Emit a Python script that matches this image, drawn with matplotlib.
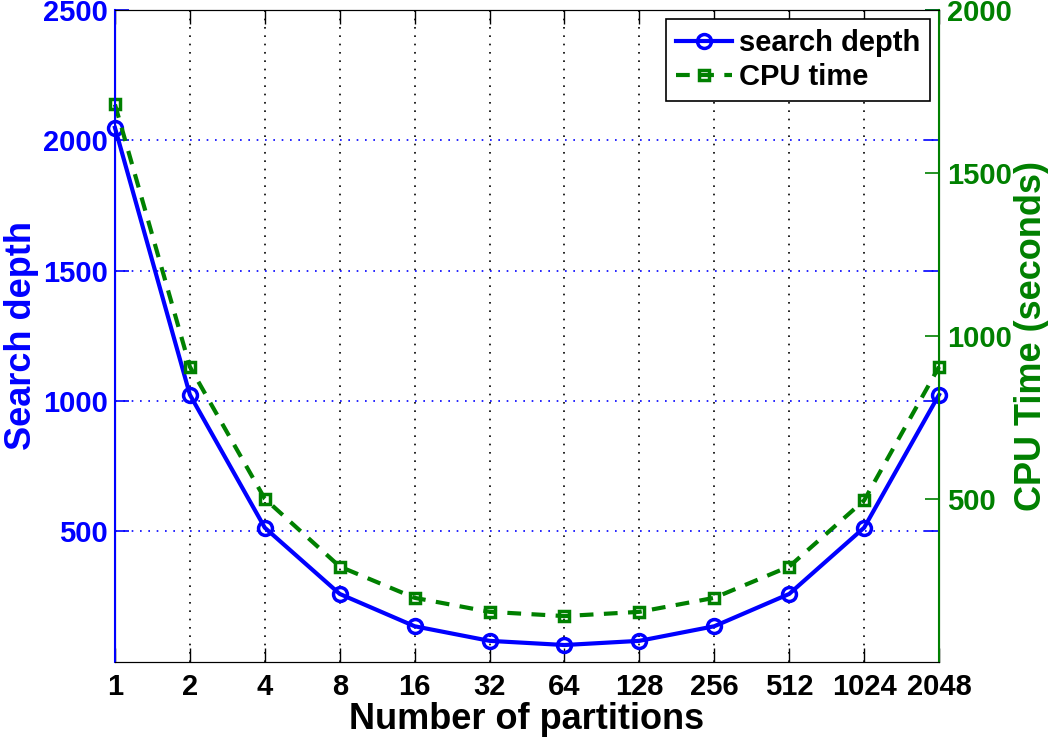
import numpy as np
import matplotlib
matplotlib.use('Agg')
import matplotlib.pyplot as plt

plt.rcParams['font.family'] = ['Liberation Sans', 'DejaVu Sans']
plt.rcParams['font.weight'] = 'bold'

partitions = ['1', '2', '4', '8', '16', '32', '64', '128', '256', '512', '1024', '2048']
search_depth = [2048, 1024, 514, 260, 136, 80, 64, 80, 136, 260, 514, 1024]
cpu_time = [1710, 905, 500, 292, 196, 153, 140, 153, 196, 292, 495, 905]

blue = '#0000ff'
green = '#008000'

x = np.arange(1, len(partitions) + 1)

fig = plt.figure(figsize=(10.5, 7.39), dpi=100)
ax = fig.add_axes([0.1095, 0.1046, 0.7848, 0.8819])
ax2 = ax.twinx()

l1, = ax.plot(x, search_depth, '-', color=blue, lw=3, marker='o', ms=10,
              mfc='none', mec=blue, mew=2.5, label='search depth', clip_on=False)
l2, = ax2.plot(x, cpu_time, '--', color=green, lw=3, dashes=(3.3, 2.5), marker='s', ms=7,
               mfc='none', mec=green, mew=2.5, label='CPU time', clip_on=False)

ax.set_xlim(1, 12)
ax.set_ylim(0, 2500)
ax2.set_ylim(0, 2000)
ax.set_xticks(x)
ax.set_xticklabels(partitions)
ax.set_yticks([500, 1000, 1500, 2000, 2500])
ax2.set_yticks([500, 1000, 1500, 2000])

ax.tick_params(axis='x', direction='in', top=True, length=10, width=1, pad=8,
               labelsize=21, colors='black')
ax.tick_params(axis='y', direction='in', right=True, length=10, width=1.2, pad=5,
               labelsize=21, colors=blue)
ax2.tick_params(axis='y', direction='in', length=10, width=1.2, pad=6,
                labelsize=21, colors=green)

ax.xaxis.grid(True, color='black', linestyle=(0, (1, 4)), lw=1.2)
ax.yaxis.grid(True, color=blue, linestyle=(0, (1, 4)), lw=1.2)

for sp in ['top', 'bottom']:
    ax2.spines[sp].set_color('black')
ax2.spines['left'].set_color(blue)
ax2.spines['right'].set_color(green)
ax2.spines['right'].set_linewidth(1.5)
ax2.spines['left'].set_linewidth(1.5)

ax.set_xlabel('Number of partitions', fontsize=26, fontweight='bold', labelpad=1)
ax.set_ylabel('Search depth', fontsize=26, fontweight='bold', color=blue, labelpad=3)
ax2.set_ylabel('CPU Time (seconds)', fontsize=26, fontweight='bold', color=green,
               labelpad=1)

leg = ax2.legend(handles=[l1, l2], loc='upper right', fontsize=21, fancybox=False,
                 framealpha=1, edgecolor='black', handlelength=1.9,
                 borderaxespad=0.3, handletextpad=0.25, borderpad=0.35,
                 labelspacing=0.2)
leg.get_frame().set_linewidth(1.2)
for t in leg.get_texts():
    t.set_fontweight('bold')

fig.savefig('out.png', dpi=100)
